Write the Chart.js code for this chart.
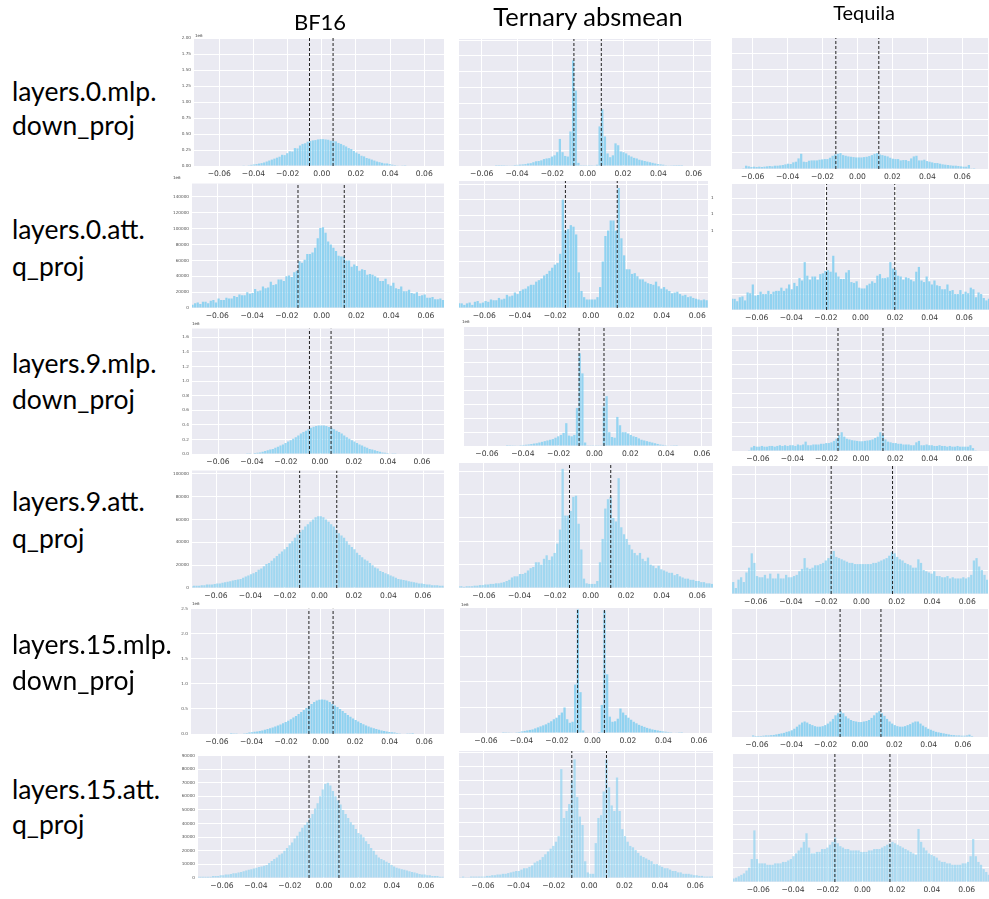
<!DOCTYPE html>
<html>
<head>
<meta charset="utf-8">
<script src="https://cdn.jsdelivr.net/npm/chart.js@4"></script>
<style>
  html, body { margin: 0; padding: 0; background: #fff; }
  body { position: relative; width: 989px; height: 899px; overflow: hidden; }
  canvas { position: absolute; background: #fff; filter: blur(0.35px); }
  .lbl { position: absolute; font-family: Lato, sans-serif; color: #000; white-space: nowrap; z-index: 5; }
  .side { font-size: 26.5px; left: 12px; line-height: 37px; }
  .title { transform: translateX(-50%); }
  .off { font: 4px "DejaVu Sans", sans-serif; color: #444; }
</style>
</head>
<body>
<script>
const titles = ['BF16', 'Ternary absmean', 'Tequila']
const rowNames = [['layers.0.mlp.', 'down_proj'], ['layers.0.att.', 'q_proj'], ['layers.9.mlp.', 'down_proj'],
                  ['layers.9.att.', 'q_proj'], ['layers.15.mlp.', 'down_proj'], ['layers.15.att.', 'q_proj']]
const xTicks = [-0.06, -0.04, -0.02, 0, 0.02, 0.04, 0.06]

// bin centres, one line = 0.015 of weight range
const binCentres = [
  -0.07425,-0.07275,-0.07125,-0.06975,-0.06825,-0.06675,-0.06525,-0.06375,-0.06225,-0.06075,
  -0.05925,-0.05775,-0.05625,-0.05475,-0.05325,-0.05175,-0.05025,-0.04875,-0.04725,-0.04575,
  -0.04425,-0.04275,-0.04125,-0.03975,-0.03825,-0.03675,-0.03525,-0.03375,-0.03225,-0.03075,
  -0.02925,-0.02775,-0.02625,-0.02475,-0.02325,-0.02175,-0.02025,-0.01875,-0.01725,-0.01575,
  -0.01425,-0.01275,-0.01125,-0.00975,-0.00825,-0.00675,-0.00525,-0.00375,-0.00225,-0.00075,
  0.00075,0.00225,0.00375,0.00525,0.00675,0.00825,0.00975,0.01125,0.01275,0.01425,
  0.01575,0.01725,0.01875,0.02025,0.02175,0.02325,0.02475,0.02625,0.02775,0.02925,
  0.03075,0.03225,0.03375,0.03525,0.03675,0.03825,0.03975,0.04125,0.04275,0.04425,
  0.04575,0.04725,0.04875,0.05025,0.05175,0.05325,0.05475,0.05625,0.05775,0.05925,
  0.06075,0.06225,0.06375,0.06525,0.06675,0.06825,0.06975,0.07125,0.07275,0.07425
]

// millions
const bf16_0_mlp = [
  0,0,0,0,0,0,0,0,0,0,
  0,0,0,0,0,0,0,0,0,.005,
  .008,.012,.018,.024,.03,.038,.045,.055,.07,.085,
  .1,.115,.13,.145,.175,.17,.2,.23,.225,.28,
  .275,.32,.345,.355,.38,.39,.4,.405,.415,.42,
  .42,.415,.41,.395,.39,.385,.36,.345,.325,.305,
  .28,.265,.235,.21,.19,.16,.15,.125,.115,.1,
  .085,.07,.06,.05,.04,.04,.03,.02,.015,.01,
  .008,.005,.003,0,0,0,0,0,0,0,
  0,0,0,0,0,0,0,0,0,0
]
// thousands
const bf16_0_att = [
  4,6,7,5,8,8,6,9,10,7,
  12,10,10,13,12,12,15,14,17,16,
  16,20,18,19,24,21,22,27,25,26,
  33,29,30,36,36,34,40,41,39,45,
  47,59,57,61,68,68,70,76,88,101,
  102,95,84,80,76,72,66,65,65,60,
  60,52,55,53,47,49,48,42,43,42,
  40,38,34,34,37,30,28,32,25,24,
  27,21,21,23,19,18,20,15,16,17,
  13,13,14,11,11,12,10,10,7,9
]
const bf16_9_mlp = [
  0,0,0,0,0,0,0,0,0,0,
  0,0,0,0,0,0,0,0,0,0,
  0,.003,.005,.008,.012,.016,.022,.03,.04,.05,
  .06,.07,.085,.1,.115,.13,.15,.17,.19,.21,
  .23,.255,.28,.3,.32,.34,.36,.375,.385,.39,
  .39,.39,.385,.37,.36,.34,.32,.3,.28,.255,
  .23,.21,.19,.17,.15,.13,.115,.1,.085,.07,
  .06,.05,.04,.03,.022,.016,.012,.008,.005,.003,
  0,0,0,0,0,0,0,0,0,0,
  0,0,0,0,0,0,0,0,0,0
]
const bf16_9_att = [
  1.5,2,2,2,2.5,2.5,3,3,3,3.5,
  4,4,4.5,5,5.5,6,6.5,7,7.5,8,
  9,10,11,12,13,14,16,17,19,21,
  22,24,26,28,30,32,34,36,39,41,
  44,47,49,51,54,56,58,60,62,63,
  63,62,60,58,56,54,51,48,46,44,
  41,38,36,34,31,29,27,25,24,22,
  20,18,17,15,14,13,12,11,10,9,
  8,7.5,7,6.5,6,5.5,5,4.5,4,4,
  3.5,3,3,2.5,2.5,2.5,2,2,2,1.5
]
const bf16_15_mlp = [
  0,0,0,0,0,0,0,0,0,0,
  0,0,0,0,0,.002,.004,.006,.008,.012,
  .016,.022,.028,.036,.044,.052,.062,.072,.085,.1,
  .115,.13,.15,.17,.19,.215,.24,.265,.295,.33,
  .36,.4,.44,.48,.52,.56,.6,.64,.665,.68,
  .685,.68,.665,.64,.6,.57,.54,.5,.46,.42,
  .38,.345,.31,.28,.25,.22,.195,.17,.15,.13,
  .115,.1,.085,.072,.06,.05,.042,.034,.028,.022,
  .016,.012,.008,.006,.004,.002,0,0,0,0,
  0,0,0,0,0,0,0,0,0,0
]
const bf16_15_att = [
  1,1,1,1,1,1,1.5,1.5,1.5,2,
  2,2.5,2.5,3,3.5,3.5,4,4.5,5,5.5,
  6,6.5,7,7.5,8,8.5,9,9.5,11,12.5,
  14,15,17,18,20,22,24,26,29,31,
  34,37,39,41,44,47,51,55,60,65,
  69,70,68,64,60,57,54,50,47,44,
  41,39,36,33,32,30,27,25,22,20,
  17,15,14,13,12,11,9.5,8.5,7.5,7,
  6.5,6,5.5,5,4.5,4,3.5,3,2.5,2.5,
  2,2,1.5,1.5,1.5,1,1,1,1,1
]

const ternary_0_mlp = [
  0,0,0,0,0,0,0,0,0,0,
  0,0,0,0,0,.002,.002,.002,.003,.005,
  .006,.01,.015,.018,.022,.025,.03,.04,.045,.06,
  .075,.08,.09,.11,.12,.125,.15,.17,.22,.43,
  .22,.16,.15,.55,1.68,1.2,.05,.012,.012,.012,
  .012,.012,.01,.02,.63,.9,.47,.2,.14,.17,
  .36,.33,.23,.22,.2,.17,.15,.13,.12,.1,
  .09,.08,.07,.06,.05,.04,.03,.025,.02,.012,
  .01,.005,.003,.002,.002,.002,0,0,0,0,
  0,0,0,0,0,0,0,0,0,0
]
const ternary_0_att = [
  6,6,4,6,7,4,8,9,6,7,
  9,8,11,10,10,13,11,12,17,15,
  16,20,18,22,24,25,28,30,30,34,
  36,38,42,44,48,52,56,58,70,140,
  100,102,107,105,95,46,22,14,11,11,
  11,11,14,27,60,93,100,113,113,100,
  155,90,68,50,50,44,45,41,37,37,
  34,32,31,30,34,28,25,27,24,22,
  19,20,21,18,16,17,14,15,13,12,
  11,10,11,10,8,9,8,8,7,7
]
const ternary_9_mlp = [
  0,0,0,0,0,0,0,0,0,0,
  0,0,0,0,0,0,0,.002,.003,.004,
  .005,.008,.012,.015,.018,.022,.028,.035,.04,.05,
  .06,.07,.08,.09,.1,.12,.14,.16,.19,.33,
  .15,.14,.16,.55,1.34,1.05,.05,.01,.01,.01,
  .01,.01,.01,.57,.72,.2,.13,.12,.42,.3,
  .2,.2,.18,.16,.14,.13,.11,.09,.08,.07,
  .06,.05,.04,.03,.02,.016,.012,.008,.005,.003,
  .002,0,0,0,0,0,0,0,0,0,
  0,0,0,0,0,0,0,0,0,0
]
const ternary_9_att = [
  1.5,1.5,1,1.5,1.5,1.5,2,2,2.5,2.5,
  3,3,3.5,3.5,4,4,4.5,5,6,7,
  9,10,10,12,12,13,15,17,18,22,
  22,20,25,28,24,27,30,38,50,102,
  62,62,66,78,79,55,33,8,4,3.5,
  3.5,3.5,6,22,42,68,76,78,60,57,
  94,52,46,42,37,33,30,28,30,25,
  23,26,20,19,17,19,16,15,14,13,
  13,11,12,10,9,8,8,7,7,6,
  6,5,5,4,4,3.5,3.5,3,3,3
]
const ternary_15_mlp = [
  0,0,0,0,0,0,0,0,0,0,
  0,0,0,0,0,0,.003,.005,.006,.008,
  .01,.015,.02,.03,.04,.05,.06,.07,.09,.11,
  .13,.15,.17,.2,.23,.27,.3,.35,.4,.5,
  .27,.2,.22,.95,2.42,.8,.05,.01,.01,.01,
  .01,.01,.02,.55,2.4,1.15,.32,.22,.23,.28,
  .48,.4,.35,.3,.26,.22,.19,.16,.14,.12,
  .1,.085,.07,.06,.05,.04,.03,.025,.02,.015,
  .01,.008,.005,.003,0,0,0,0,0,0,
  0,0,0,0,0,0,0,0,0,0
]
const ternary_15_att = [
  .5,.5,1,.5,.5,1,1,1,1,1,
  1,1.5,1.5,2,2,2.5,2.5,3,3,3.5,
  4,4.5,5,5,6,7,7,8,9,11,
  12,13,15,17,19,21,23,26,30,78,
  43,48,53,70,85,58,44,38,12,4,
  3,3,25,43,45,62,85,65,52,48,
  72,48,35,30,26,23,22,20,18,16,
  15,14,13,12,10,10,9,8,7,7,
  6,5,5,4,4,3,3,3,2.5,2,
  2,1.5,1.5,1,1,1,1,1,.5,.5
]

const tequila_0_mlp = [
  0,0,0,0,0,0,.003,.05,.04,.03,
  .035,.03,.035,.03,.035,.04,.045,.04,.05,.05,
  .055,.06,.07,.08,.075,.1,.11,.16,.23,.11,
  .105,.125,.13,.13,.13,.14,.145,.15,.15,.17,
  .2,.22,.23,.24,.21,.2,.19,.185,.18,.175,
  .175,.175,.18,.185,.195,.21,.23,.24,.22,.21,
  .2,.19,.17,.155,.15,.15,.13,.135,.135,.12,
  .16,.19,.2,.13,.13,.14,.12,.11,.1,.09,
  .09,.08,.07,.065,.06,.055,.05,.05,.045,.04,
  .035,.035,.06,.01,.002,0,0,0,0,0
]
const tequila_0_att = [
  14,14,11,16,17,12,22,21,32,18,
  19,23,20,20,24,20,23,24,24,28,
  24,27,32,26,34,30,40,37,60,43,
  38,42,42,38,45,46,49,50,48,68,
  47,42,39,39,47,50,35,34,36,28,
  27,27,31,33,36,34,43,45,40,40,
  41,60,52,50,43,42,38,41,40,38,
  36,48,54,37,35,42,36,32,37,31,
  30,26,26,32,24,25,20,20,25,20,
  23,21,28,26,16,22,20,15,12,14
]
const tequila_9_mlp = [
  0,0,0,0,0,0,.01,.05,.07,.06,
  .06,.07,.06,.06,.07,.07,.06,.07,.08,.07,
  .08,.07,.08,.08,.07,.09,.08,.09,.13,.08,
  .08,.09,.09,.09,.1,.1,.11,.11,.12,.14,
  .17,.22,.26,.2,.17,.16,.15,.145,.14,.135,
  .135,.14,.145,.15,.16,.18,.2,.26,.22,.16,
  .13,.12,.11,.11,.1,.1,.09,.09,.09,.08,
  .08,.12,.14,.08,.08,.09,.08,.08,.07,.07,
  .08,.07,.07,.06,.07,.06,.06,.07,.06,.06,
  .06,.06,.08,.04,.01,0,0,0,0,0
]
const tequila_9_att = [
  8,10,5,12,14,10,18,22,34,26,
  15,14,14,16,13,17,13,13,17,13,
  13,16,14,14,15,16,19,21,30,22,
  21,22,24,24,25,26,28,30,33,36,
  31,30,29,28,27,26,26,25,25,25,
  25,25,25,25,26,26,27,28,29,30,
  32,35,34,31,29,28,26,25,24,22,
  22,29,26,20,19,18,17,19,15,15,
  14,14,15,13,14,13,13,13,14,13,
  14,16,28,30,23,20,16,12,10,5
]
const tequila_15_mlp = [
  0,0,0,0,0,0,0,.01,.03,.02,
  .02,.02,.025,.03,.03,.035,.04,.05,.06,.07,
  .08,.1,.11,.13,.16,.2,.24,.28,.3,.28,
  .25,.23,.21,.2,.2,.21,.23,.26,.3,.35,
  .42,.46,.5,.46,.4,.36,.33,.31,.3,.29,
  .29,.3,.31,.33,.37,.42,.47,.5,.46,.41,
  .35,.3,.26,.23,.21,.2,.2,.21,.23,.25,
  .28,.3,.3,.26,.22,.19,.16,.14,.12,.1,
  .09,.08,.07,.06,.05,.04,.035,.03,.03,.025,
  .025,.03,.045,.02,.01,0,0,0,0,0
]
const tequila_15_att = [
  2.5,3,4,5,6,8,10,16,36,16,
  13,13,13,12,12,12,13,13,13,14,
  14,15,16,18,20,22,24,28,34,24,
  20,20,21,21,23,23,24,26,28,31,
  27,25,24,23,23,22,22,22,22,21,
  21,21,22,22,23,23,23,24,25,26,
  27,28,27,26,25,24,23,22,21,20,
  19,37,28,24,22,20,19,18,17,15,
  14,14,13,13,12,12,12,12,13,13,
  14,18,30,18,14,12,9,7,5,3
]

const seriesGrid = [
  [bf16_0_mlp, ternary_0_mlp, tequila_0_mlp],
  [bf16_0_att, ternary_0_att, tequila_0_att],
  [bf16_9_mlp, ternary_9_mlp, tequila_9_mlp],
  [bf16_9_att, ternary_9_att, tequila_9_att],
  [bf16_15_mlp, ternary_15_mlp, tequila_15_mlp],
  [bf16_15_att, ternary_15_att, tequila_15_att]
]

// dashed thresholds per panel
const thresholdGrid = [
  [[-.0072, .0066], [-.0078, .0077], [-.0124, .0122]],
  [[-.0136, .0130], [-.0143, .0149], [-.0196, .0198]],
  [[-.0062, .0065], [-.0086, .0053], [-.0134, .0128]],
  [[-.0115, .0100], [-.0119, .0113], [-.0172, .0176]],
  [[-.0068, .0072], [-.0084, .0067], [-.0116, .0122]],
  [[-.0088, .0088], [-.0098, .0098], [-.0159, .0158]]
]

// y axis per row: max per column, grid step, label format
const yMaxGrid = [[2.0, 2.02, 1.98], [157, 164, 158], [1.72, 1.72, 1.72], [103, 107, 107], [2.5, 2.45, 2.5], [90, 91, 90]]
const yStepRow = [.25, 20, .2, 20, .5, 10]
const yFormatRow = [
  v => v.toFixed(2),
  v => String(Math.round(v * 1000)),
  v => v.toFixed(1),
  v => String(Math.round(v * 1000)),
  v => v.toFixed(1),
  v => String(Math.round(v * 1000))
]

// layout of the photo: plot left, top, right, bottom, px of -0.06, px of 0.06, canvas top
const panelRects = [
  [[194,38,444,166,219.3,424.3,30], [459,39,711,166,481.7,693.7,30], [732,38,988,169,752.7,962.3,30]],
  [[192,180,444,308,217.3,426,178], [459,181,708,308,484.3,697.3,178], [732,184,989,310,756.7,964.3,182]],
  [[192,327,444,454,218,422,323], [464,327,712,446,487,702,318], [732,327,989,451,758,964,324]],
  [[192,468,444,588,216,423,465], [459,463,713,588,484,697.3,461], [732,466,988,594,755.7,967.3,464]],
  [[191,605,444,734,217,424.3,603], [460,608,712,733,486,699,604], [732,608,988,737,757,963,606]],
  [[198,752,444,878,222,426,750], [459,751,713,878,483,695.3,749], [733,753,989,882,758.3,966.7,751]]
]
const colLeft = [172, 456, 728]
const colRight = [456, 726, 989]
const barColorRow = ['rgba(128,206,240,0.8)', 'rgba(128,206,240,0.85)', 'rgba(128,206,240,0.8)',
                     'rgba(128,206,240,0.7)', 'rgba(128,206,240,0.85)', 'rgba(128,206,240,0.6)']

const plotBackground = {
  id: 'plotBackground',
  beforeDraw(chart) {
    const a = chart.chartArea
    chart.ctx.fillStyle = '#eaeaf2'
    chart.ctx.fillRect(a.left, a.top, a.width, a.height)
  }
}

function addText(cls, text, x, y) {
  const el = document.createElement('div')
  el.className = 'lbl ' + cls
  el.textContent = text
  el.style.left = x + 'px'
  el.style.top = y + 'px'
  document.body.appendChild(el)
  return el
}

seriesGrid.forEach((row, r) => row.forEach((values, c) => {
  const [L, T, R, B, tNeg, tPos, boxTop] = panelRects[r][c]
  const boxBottom = r < 5 ? panelRects[r + 1][c][6] : 899
  const canvas = document.createElement('canvas')
  const w = colRight[c] - colLeft[c], h = boxBottom - boxTop
  canvas.width = w
  canvas.height = h
  canvas.style.left = colLeft[c] + 'px'
  canvas.style.top = boxTop + 'px'
  canvas.style.width = w + 'px'
  canvas.style.height = h + 'px'
  document.body.appendChild(canvas)

  const pxPerUnit = (tPos - tNeg) / 0.12
  const zeroPx = tNeg + 0.06 * pxPerUnit
  const yMax = yMaxGrid[r][c]
  const lines = thresholdGrid[r][c].map(t => ({
    type: 'line',
    data: [{ x: t, y: 0 }, { x: t, y: yMax }],
    borderColor: '#222',
    borderWidth: 1,
    borderDash: [3, 2],
    pointRadius: 0,
    order: 0
  }))

  new Chart(canvas.getContext('2d'), {
    type: 'bar',
    data: {
      datasets: [{
        data: binCentres.map((x, i) => ({ x: x, y: values[i] })),
        backgroundColor: barColorRow[r],
        barPercentage: 0.85,
        categoryPercentage: 1,
        order: 1
      }, ...lines]
    },
    options: {
      responsive: false,
      animation: false,
      devicePixelRatio: 1,
      layout: { padding: { left: 0, top: T - boxTop, right: colRight[c] - R, bottom: 0 } },
      plugins: { legend: { display: false }, tooltip: { enabled: false } },
      scales: {
        x: {
          type: 'linear',
          offset: false,
          min: (L - zeroPx) / pxPerUnit,
          max: (R - zeroPx) / pxPerUnit,
          afterFit: a => { a.height = boxBottom - B },
          afterBuildTicks: a => { a.ticks = xTicks.map(v => ({ value: v })) },
          grid: { color: '#fff', lineWidth: 1, drawTicks: false, offset: false },
          border: { display: false },
          ticks: {
            autoSkip: false,
            maxRotation: 0,
            padding: 3,
            color: '#3a3a3a',
            font: { family: 'DejaVu Sans', size: 7.6 },
            callback: v => (v < 0 ? '\u2212' : '') + Math.abs(v).toFixed(2)
          }
        },
        y: {
          min: 0,
          max: yMax,
          afterFit: a => { a.width = L - colLeft[c] },
          grid: { color: '#fff', lineWidth: 1, drawTicks: false },
          border: { display: false },
          ticks: {
            display: c === 0,
            stepSize: yStepRow[r],
            includeBounds: false,
            padding: 3,
            color: '#555',
            font: { family: 'DejaVu Sans', size: 4.2 },
            callback: yFormatRow[r]
          }
        }
      }
    },
    plugins: [plotBackground]
  })
}))

titles.forEach((t, i) => {
  addText('title', t, [320, 588, 864][i], [8, 1, 0][i]).style.fontSize = [22, 25.5, 20][i] + 'px'
})
rowNames.forEach((n, i) => {
  addText('side', n[0], 12, [73, 211, 345, 483, 626, 771][i])
  addText('side', n[1], 12, [107, 248, 381, 520, 662, 806][i])
})
// offset labels and the clipped leftovers next to the panels
addText('off', '1e6', 195, 33)
addText('off', '1e6', 173, 175)
addText('off', '1e6', 192, 321)
addText('off', '1e6', 192, 601)
addText('off', '1e6', 462, 319)
addText('off', '1e6', 461, 602)
addText('off', '1', 711, 195)
addText('off', '1', 711, 211)
addText('off', '1', 711, 228)
</script>
</body>
</html>
